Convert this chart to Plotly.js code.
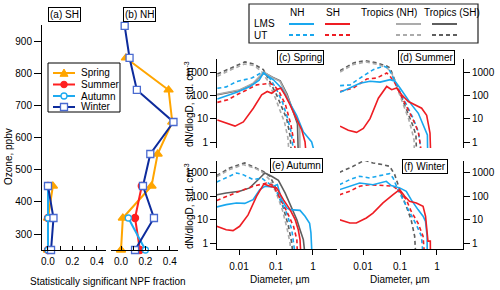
<!DOCTYPE html>
<html><head><meta charset="utf-8">
<script src="https://cdn.plot.ly/plotly-3.0.1.min.js"></script>
<style>html,body{margin:0;padding:0;background:#fff}#chart{width:500px;height:290px}</style>
</head><body><div id="chart"></div>
<script>
// ---------- (a) SH / (b) NH : NPF fraction vs ozone ----------
const ozoneSH = [250, 350, 450];
const shSpring = [0.0, 0.0, 0.04];
const shSummer = [0.0, 0.0, 0.0];
const shAutumn = [0.0, 0.0, 0.0];
const shWinter = [0.025, 0.045, 0.0];

const ozoneNH = [250, 350, 450, 550, 650, 750, 850, 950];
const nhSpring = [0.0, 0.015, 0.25, 0.30, 0.42, 0.39, 0.04, null];
const nhSummer = [0.155, 0.115, 0.17, null, null, null, null, null];
const nhAutumn = [0.2, 0.06, null, null, null, null, null, null];
const nhWinter = [0.115, 0.27, 0.18, 0.24, 0.43, 0.13, 0.07, 0.03];

const fracTicks = [0, 0.2, 0.4];
const fracTickText = ['0.0', '0.2', '0.4'];
const ozoneTicks = [300, 400, 500, 600, 700, 800, 900];

// ---------- size distributions [diameter um, dN/dlogD] ----------
// (c) Spring
const spring_TropSH_UT = [[0.0026,820],[0.0057,1400],[0.0145,2700],[0.025,2200],[0.0455,1260],[0.065,450],[0.104,104],[0.194,10],[0.239,1.9],[0.262,0.3]];
const spring_TropNH_UT = [[0.0026,650],[0.0057,1200],[0.014,2200],[0.025,1900],[0.04,1100],[0.06,420],[0.095,80],[0.17,7],[0.21,1.5],[0.225,0.3]];
const spring_TropNH_LMS = [[0.0026,112],[0.0106,173],[0.0244,333],[0.047,1000],[0.085,550],[0.128,400],[0.194,105],[0.294,20],[0.40,7.3],[0.44,3],[0.445,0.3]];
const spring_TropSH_LMS = [[0.0026,105],[0.01,160],[0.024,310],[0.047,950],[0.08,600],[0.13,420],[0.2,110],[0.29,22],[0.38,6],[0.40,0.3]];
const spring_NH_UT = [[0.0026,200],[0.0045,230],[0.0087,390],[0.022,550],[0.044,1000],[0.07,500],[0.1,200],[0.15,50],[0.2,12],[0.26,2.5],[0.3,0.3]];
const spring_SH_UT = [[0.0026,50],[0.005,65],[0.0087,105],[0.018,180],[0.03,280],[0.069,330],[0.09,260],[0.12,150],[0.18,40],[0.25,6],[0.32,1],[0.35,0.3]];
const spring_NH_LMS = [[0.0026,70],[0.0046,95],[0.0087,136],[0.02,240],[0.035,450],[0.0455,900],[0.085,465],[0.142,203],[0.24,46],[0.36,14],[0.55,2.7],[0.92,1.0],[1.13,0.3]];
const spring_SH_LMS = [[0.0026,8.7],[0.0046,6.2],[0.0078,4.8],[0.0131,7.3],[0.0244,28],[0.041,105],[0.058,146],[0.0764,123],[0.104,174],[0.134,204],[0.175,105],[0.24,39],[0.36,10],[0.5,3.2],[0.61,1],[0.65,0.3]];
// (d) Summer
const summer_TropSH_UT = [[0.0024,1150],[0.0055,2450],[0.0113,3100],[0.0234,2450],[0.0437,1800],[0.054,1500],[0.081,280],[0.123,54],[0.186,12],[0.229,4.5],[0.27,1.95],[0.28,0.3]];
const summer_TropNH_UT = [[0.0024,1000],[0.0055,2100],[0.012,2700],[0.025,2100],[0.045,1500],[0.06,900],[0.08,250],[0.12,45],[0.17,10],[0.21,3],[0.24,1.2],[0.245,0.3]];
const summer_NH_UT = [[0.0024,260],[0.0045,280],[0.0083,550],[0.019,1260],[0.0355,1780],[0.0484,1500],[0.066,550],[0.1,145],[0.151,39],[0.229,10],[0.313,2.7],[0.347,1],[0.36,0.3]];
const summer_SH_UT = [[0.0024,145],[0.0055,205],[0.0126,500],[0.0234,550],[0.0437,910],[0.054,650],[0.0733,330],[0.1,123],[0.151,33],[0.229,8.7],[0.313,2.7],[0.385,0.3]];
const summer_NH_LMS = [[0.0024,135],[0.0045,205],[0.0083,330],[0.0155,400],[0.029,370],[0.054,470],[0.0733,400],[0.1,205],[0.151,75],[0.207,39],[0.313,17],[0.43,5.3],[0.55,2.0],[0.56,0.3]];
const summer_SH_LMS = [[0.0024,4.8],[0.004,3.2],[0.0067,2.6],[0.0102,3.8],[0.0155,10],[0.026,75],[0.0437,240],[0.0596,175],[0.081,205],[0.111,105],[0.168,54],[0.254,39],[0.385,28],[0.526,14],[0.647,2.4],[0.675,0.3]];
// (e) Autumn
const autumn_TropSH_UT = [[0.0025,770],[0.0056,1640],[0.0143,2700],[0.0297,1640],[0.045,1180],[0.0686,720],[0.104,193],[0.158,32],[0.217,5.2],[0.267,1],[0.285,0.3]];
const autumn_TropNH_UT = [[0.0025,700],[0.0056,1400],[0.013,2300],[0.03,1500],[0.045,1000],[0.065,550],[0.1,150],[0.15,25],[0.2,4],[0.24,1],[0.25,0.3]];
const autumn_TropSH_LMS = [[0.0025,117],[0.0045,140],[0.0104,165],[0.0195,230],[0.0366,610],[0.05,1000],[0.076,720],[0.116,485],[0.176,140],[0.267,32],[0.366,10],[0.446,3.7],[0.548,1.4],[0.61,0.3]];
const autumn_NH_UT = [[0.0025,410],[0.0045,610],[0.0085,1000],[0.0129,850],[0.024,520],[0.0406,610],[0.062,370],[0.094,230],[0.128,72],[0.195,19],[0.267,3.7],[0.33,0.3]];
const autumn_SH_UT = [[0.0025,67],[0.0045,100],[0.0104,165],[0.024,270],[0.0557,370],[0.0847,290],[0.128,85],[0.195,23],[0.297,5.2],[0.366,1.4],[0.38,0.3]];
const autumn_NH_LMS = [[0.0025,35],[0.0045,44],[0.0085,52],[0.0143,50],[0.024,72],[0.0366,193],[0.05,270],[0.076,250],[0.109,320],[0.142,72],[0.195,32],[0.24,27],[0.446,25],[0.61,14],[0.81,7],[0.88,2.7],[0.94,0.3]];
const autumn_SH_LMS = [[0.0025,5.2],[0.0045,3.7],[0.0069,3.4],[0.0104,5.2],[0.0176,16],[0.0297,100],[0.047,340],[0.0686,270],[0.104,230],[0.158,72],[0.24,27],[0.33,10],[0.4,3.7],[0.446,1.4],[0.47,0.3]];
// (f) Winter
const winter_TropSH_UT = [[0.0023,1070],[0.0054,1930],[0.011,3500],[0.0186,2700],[0.0347,2270],[0.0526,1930],[0.072,850],[0.098,193],[0.148,37],[0.2,10],[0.249,1.95],[0.266,0.3]];
const winter_NH_UT = [[0.0023,316],[0.0044,520],[0.0081,720],[0.0151,610],[0.0282,770],[0.0526,940],[0.065,610],[0.088,193],[0.134,52],[0.2,16],[0.276,6.1],[0.38,1.95],[0.42,0.3]];
const winter_SH_UT = [[0.0023,117],[0.0044,165],[0.0081,270],[0.0151,316],[0.0347,290],[0.065,270],[0.098,165],[0.148,72],[0.2,23],[0.307,7.2],[0.42,1.95],[0.46,0.3]];
const winter_NH_LMS = [[0.0023,193],[0.0044,270],[0.0081,370],[0.0186,316],[0.0426,440],[0.058,290],[0.098,230],[0.148,165],[0.2,72],[0.307,27],[0.42,14],[0.49,8.5],[0.54,1.95],[0.545,0.3]];
const winter_SH_LMS = [[0.0023,10],[0.0044,7.2],[0.0066,7.2],[0.0123,11.8],[0.0186,19],[0.0347,52],[0.065,117],[0.098,193],[0.134,100],[0.18,61],[0.276,52],[0.42,37],[0.49,14],[0.54,3.2],[0.57,1.2],[0.66,1.2],[0.665,0.3]];

// ---------- styling ----------
const FONT = 'Liberation Sans, Arial, sans-serif';
const C_NH = '#19A7EE', C_SH = '#EE1D23', C_TNH = '#ABABAB', C_TSH = '#5E5E5E';
const C_SPR = '#FFA500', C_SUM = '#FF2020', C_AUT = '#1EAAF0', C_WIN = '#0D2B9C', C_WINM = '#4A6AD0';
const DASH = '4px,3px';
const W = 500, H = 290;
const px = v => v / W, py = v => 1 - v / H;

const traces = [];
function prof(x, y, xa, color, sym, size, mcol, mline) {
  traces.push({type:'scatter', mode:'lines+markers', x, y, xaxis:xa, yaxis:'y', cliponaxis:false,
    line:{color, width:2}, marker:{symbol:sym, size, color:mcol, line:{color:mline, width:1.3}},
    showlegend:false, hoverinfo:'skip'});
}
prof(shSpring, ozoneSH, 'x', C_SPR, 'triangle-up', 8, C_SPR, C_SPR);
prof(shSummer, ozoneSH, 'x', C_SUM, 'circle', 7, C_SUM, C_SUM);
prof(shAutumn, ozoneSH, 'x', C_AUT, 'circle', 6, '#fff', C_AUT);
prof(shWinter, ozoneSH, 'x', C_WIN, 'square', 7, '#fff', C_WINM);
prof(nhSpring, ozoneNH, 'x2', C_SPR, 'triangle-up', 8, C_SPR, C_SPR);
prof(nhSummer, ozoneNH, 'x2', C_SUM, 'circle', 7, C_SUM, C_SUM);
prof(nhAutumn, ozoneNH, 'x2', C_AUT, 'circle', 6, '#fff', C_AUT);
prof(nhWinter, ozoneNH, 'x2', C_WIN, 'square', 7, '#fff', C_WINM);

function sd(arr, color, dashed, xa, ya) {
  if (!arr) return;
  traces.push({type:'scatter', mode:'lines', x:arr.map(p=>p[0]), y:arr.map(p=>p[1]), xaxis:xa, yaxis:ya,
    line:{color, width:1.6, dash: dashed ? DASH : 'solid'}, showlegend:false, hoverinfo:'skip'});
}
function panel(s, xa, ya) {
  sd(s.TSHU, C_TSH, true, xa, ya); sd(s.TNHU, C_TNH, true, xa, ya);
  sd(s.TSHL, C_TSH, false, xa, ya); sd(s.TNHL, C_TNH, false, xa, ya);
  sd(s.NHU, C_NH, true, xa, ya); sd(s.SHU, C_SH, true, xa, ya);
  sd(s.NHL, C_NH, false, xa, ya); sd(s.SHL, C_SH, false, xa, ya);
}
panel({TSHU:spring_TropSH_UT, TNHU:spring_TropNH_UT, TSHL:spring_TropSH_LMS, TNHL:spring_TropNH_LMS,
       NHU:spring_NH_UT, SHU:spring_SH_UT, NHL:spring_NH_LMS, SHL:spring_SH_LMS}, 'x3', 'y3');
panel({TSHU:summer_TropSH_UT, TNHU:summer_TropNH_UT, NHU:summer_NH_UT, SHU:summer_SH_UT,
       NHL:summer_NH_LMS, SHL:summer_SH_LMS}, 'x4', 'y4');
panel({TSHU:autumn_TropSH_UT, TNHU:autumn_TropNH_UT, TSHL:autumn_TropSH_LMS,
       NHU:autumn_NH_UT, SHU:autumn_SH_UT, NHL:autumn_NH_LMS, SHL:autumn_SH_LMS}, 'x5', 'y5');
panel({TSHU:winter_TropSH_UT, NHU:winter_NH_UT, SHU:winter_SH_UT,
       NHL:winter_NH_LMS, SHL:winter_SH_LMS}, 'x6', 'y6');

const base = {showgrid:false, zeroline:false, showline:true, linecolor:'#000', linewidth:1,
  ticks:'outside', tickcolor:'#000', tickwidth:1, ticklen:6, tickfont:{size:10, family:FONT, color:'#000'}};
const logY = {...base, type:'log', tickvals:[1,10,100,1000], ticktext:['1','10','100','1000']};
const logXhidden = {showgrid:false, zeroline:false, showline:false, ticks:'', showticklabels:false, type:'log'};
const logX = {...base, type:'log', tickvals:[0.01,0.1,1], ticktext:['0.01','0.1','1'], ticklen:5, ticklabelstandoff:3};
const fracX = {...base, tickvals:fracTicks, ticktext:fracTickText, ticks:'inside', ticklen:4, ticklabelstandoff:2,
  minor:{tick0:0, dtick:0.1, ticks:'inside', ticklen:4, tickcolor:'#000', showgrid:false}};

const topDom = [py(148), py(59)], botDom = [py(249), py(161)];
const layout = {
  width:W, height:H, margin:{l:0, r:0, t:0, b:0},
  paper_bgcolor:'#fff', plot_bgcolor:'rgba(0,0,0,0)',
  font:{family:FONT, size:10, color:'#000'},
  xaxis:{...fracX, domain:[px(42), px(106)], range:[-0.049, 0.475], anchor:'y'},
  xaxis2:{...fracX, domain:[px(111), px(178)], range:[-0.082, 0.467], anchor:'y'},
  yaxis:{...base, domain:[py(250), py(25)], range:[250, 953], anchor:'x', tickvals:ozoneTicks, ticklen:7},
  xaxis3:{...logXhidden, domain:[px(217), px(337)], range:[-2.595, 0.649], anchor:'y3'},
  yaxis3:{...logY, domain:topDom, range:[-0.257, 3.557], anchor:'x3'},
  xaxis4:{...logXhidden, domain:[px(340), px(463)], range:[-2.622, 0.703], anchor:'y4'},
  yaxis4:{...logY, domain:topDom, range:[-0.257, 3.557], anchor:'x4', side:'right'},
  xaxis5:{...logX, domain:[px(217), px(337)], range:[-2.595, 0.649], anchor:'y5'},
  yaxis5:{...logY, domain:botDom, range:[-0.257, 3.514], anchor:'x5'},
  xaxis6:{...logX, domain:[px(340), px(463)], range:[-2.622, 0.703], anchor:'y6'},
  yaxis6:{...logY, domain:botDom, range:[-0.257, 3.514], anchor:'x6', side:'right'},
  shapes:[], annotations:[]
};

function ann(text, x, y, opts) {
  layout.annotations.push(Object.assign({text, x:px(x), y:py(y), xref:'paper', yref:'paper',
    xanchor:'center', yanchor:'middle',
    showarrow:false, font:{size:10, family:FONT, color:'#000'}}, opts || {}));
}
const boxed = {bordercolor:'#000', borderwidth:1, borderpad:1, bgcolor:'#fff'};
ann('(a) SH', 64, 14.5, boxed);
ann('(b) NH', 139, 14.5, boxed);
ann('(c) Spring', 300, 57, boxed);
ann('(d) Summer', 426, 57, boxed);
ann('(e) Autumn', 296, 165.5, boxed);
ann('(f) Winter', 425, 166, boxed);
ann('Ozone, ppbv', 8, 157, {textangle:-90});
ann('Statistically significant NPF fraction', 107.5, 281);
ann('dN/dlogD, std. cm<sup>-3</sup>', 189, 104, {textangle:-90});
ann('dN/dlogD, std. cm<sup>-3</sup>', 189, 206, {textangle:-90});
ann('Diameter, µm', 280, 279);
ann('Diameter, µm', 400, 279);

function line(x0, x1, y, color, dash, w) {
  layout.shapes.push({type:'line', xref:'paper', yref:'paper', x0:px(x0), x1:px(x1), y0:py(y), y1:py(y),
    line:{color, width:w || 2, dash: dash || 'solid'}});
}
function rect(x0, y0, x1, y1, lc, fill, w) {
  layout.shapes.push({type:'rect', xref:'paper', yref:'paper', x0:px(x0), x1:px(x1), y0:py(y1), y1:py(y0),
    line:{color:lc, width:w || 1}, fillcolor:fill || 'rgba(0,0,0,0)'});
}
// top-right key
rect(249, 4, 478, 43, '#222', 'rgba(0,0,0,0)', 1.2);
ann('NH', 297, 13); ann('SH', 333, 13); ann('Tropics (NH)', 389, 13); ann('Tropics (SH)', 452, 13);
ann('LMS', 252, 24, {xanchor:'left'}); ann('UT', 252, 35, {xanchor:'left'});
[[289,314,C_NH],[325,350,C_SH],[396,421,C_TNH],[432,457,C_TSH]].forEach(s => {
  line(s[0], s[1], 24, s[2], 'solid', 2);
  line(s[0], s[1], 35, s[2], DASH, 2);
});
// season key in panel (a)
rect(48, 63, 120, 112, '#000', '#fff', 1);
const keyRows = [['Spring', 73, C_SPR], ['Summer', 84.5, C_SUM], ['Autumn', 96, C_AUT], ['Winter', 107, C_WIN]];
keyRows.forEach(r => { line(53, 75, r[1], r[2], 'solid', 2); ann(r[0], 79, r[1], {xanchor:'left'}); });
(function () {
  const cx = 64;
  let y = 73;
  layout.shapes.push({type:'path', xref:'paper', yref:'paper',
    path:`M ${px(cx-4)},${py(y+3.3)} L ${px(cx+4)},${py(y+3.3)} L ${px(cx)},${py(y-4)} Z`,
    fillcolor:C_SPR, line:{color:C_SPR, width:1}});
  y = 84.5;
  layout.shapes.push({type:'circle', xref:'paper', yref:'paper', x0:px(cx-3.3), x1:px(cx+3.3), y0:py(y+3.3), y1:py(y-3.3),
    fillcolor:C_SUM, line:{color:C_SUM, width:1}});
  y = 96;
  layout.shapes.push({type:'circle', xref:'paper', yref:'paper', x0:px(cx-3), x1:px(cx+3), y0:py(y+3), y1:py(y-3),
    fillcolor:'#fff', line:{color:C_AUT, width:1.3}});
  y = 107;
  layout.shapes.push({type:'rect', xref:'paper', yref:'paper', x0:px(cx-3.5), x1:px(cx+3.5), y0:py(y+3.5), y1:py(y-3.5),
    fillcolor:'#fff', line:{color:C_WINM, width:1.3}});
})();

Plotly.newPlot('chart', traces, layout, {staticPlot:true, displayModeBar:false});
</script></body></html>
